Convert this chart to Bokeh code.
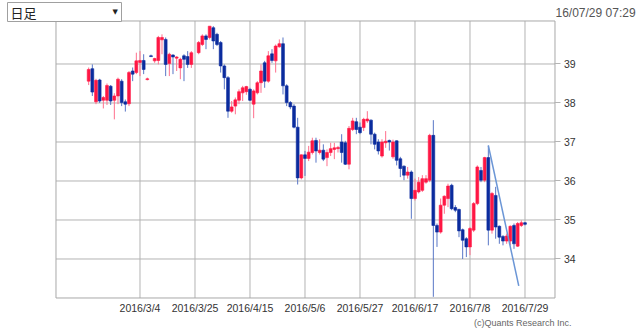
from bokeh.plotting import figure
from bokeh.models import ColumnDataSource, FixedTicker, Label, Range1d
from bokeh.embed import file_html
from bokeh.resources import INLINE

# trading-day slot index (0 = 2016/3/4, one slot per weekday)
day = [-14, -13, -12, -11, -10, -9, -8, -7, -6, -5, -4, -3, -2, -1, 0, 1, 2, 3, 4, 5,
       6, 7, 8, 9, 10, 11, 12, 13, 14, 16, 17, 18, 19, 20, 21, 22, 23, 24, 25, 26,
       27, 28, 29, 30, 31, 32, 33, 34, 35, 36, 37, 38, 39, 40, 41, 42, 43, 44, 45, 46,
       47, 48, 49, 50, 51, 52, 53, 54, 55, 56, 57, 58, 59, 60, 61, 62, 63, 64, 65, 66,
       67, 68, 69, 70, 71, 72, 73, 74, 75, 76, 77, 78, 79, 80, 81, 82, 83, 84, 85, 86,
       87, 88, 89, 90, 91, 92, 93, 94, 95, 96, 97, 98, 99, 100, 101, 102, 103, 104, 105]
opens = [38.56, 38.88, 38.03, 38.59, 38.07, 38.07, 38.43, 38.07, 38.18, 38.56, 38.03, 37.98, 38.82, 38.78, 39.04, 39.09, 38.60, 39.21, 39.08, 39.09,
         39.62, 39.63, 39.01, 39.23, 39.15, 38.90, 39.21, 39.19, 38.99, 39.29, 39.50, 39.72, 39.68, 39.93, 39.76, 39.55, 38.95, 38.65, 37.79, 37.92,
         38.07, 38.26, 38.29, 38.35, 37.97, 38.26, 38.52, 39.03, 38.56, 39.26, 39.08, 39.44, 39.52, 38.44, 38.01, 37.92, 37.38, 36.08, 36.67, 36.58,
         36.73, 37.04, 36.73, 36.79, 36.60, 36.73, 36.81, 36.83, 37.00, 36.98, 36.43, 37.32, 37.52, 37.38, 37.37, 37.54, 37.56, 37.20, 37.00, 36.64,
         36.98, 37.04, 36.62, 37.03, 36.57, 36.38, 36.15, 36.23, 35.55, 35.72, 35.76, 35.97, 36.02, 37.17, 34.86, 34.69, 35.38, 35.55, 35.89, 35.32,
         35.27, 34.75, 34.52, 34.31, 34.74, 35.42, 36.27, 36.02, 36.60, 34.74, 35.63, 34.84, 34.58, 34.46, 34.46, 34.86, 34.33, 34.86, 34.93]
highs = [38.91, 38.99, 38.62, 38.62, 38.18, 38.50, 38.46, 38.25, 38.65, 38.61, 38.09, 38.82, 38.91, 39.29, 39.33, 39.25, 38.65, 39.24, 39.16, 39.72,
         39.76, 39.68, 39.29, 39.25, 39.20, 39.16, 39.25, 39.33, 39.33, 39.59, 39.76, 39.76, 39.97, 39.97, 39.80, 39.59, 38.99, 38.69, 38.05, 38.14,
         38.35, 38.44, 38.44, 38.39, 38.35, 38.56, 38.99, 39.08, 39.33, 39.38, 39.50, 39.63, 39.68, 38.48, 38.05, 37.97, 37.62, 36.68, 36.77, 36.90,
         37.11, 37.11, 37.07, 36.94, 36.81, 36.98, 36.98, 36.90, 37.20, 37.03, 37.41, 37.62, 37.62, 37.50, 37.62, 37.79, 37.58, 37.24, 37.07, 37.07,
         37.28, 37.06, 37.06, 37.04, 36.62, 36.40, 36.36, 36.27, 36.06, 36.10, 36.15, 36.15, 37.21, 37.56, 34.91, 35.55, 35.63, 35.93, 35.93, 35.38,
         35.29, 34.78, 34.56, 34.82, 35.46, 36.40, 36.36, 36.62, 36.91, 35.72, 35.85, 34.86, 34.61, 34.65, 34.86, 34.91, 34.95, 34.99, 34.95]
lows = [38.46, 38.18, 37.97, 38.00, 37.86, 37.95, 37.95, 37.58, 37.97, 37.92, 37.78, 37.92, 38.56, 38.74, 38.69, 38.74, 38.58, 39.18, 39.03, 38.99,
        39.25, 38.69, 38.69, 38.74, 38.82, 38.61, 38.56, 38.90, 38.90, 39.25, 39.46, 39.38, 39.63, 39.38, 39.46, 38.78, 38.35, 37.62, 37.75, 37.71,
        37.97, 38.05, 38.21, 38.05, 37.61, 38.22, 38.26, 38.39, 38.52, 39.03, 38.78, 39.42, 38.22, 37.92, 37.84, 37.35, 35.91, 36.04, 36.13, 36.51,
        36.68, 36.47, 36.68, 36.51, 36.38, 36.64, 36.56, 36.73, 36.47, 36.41, 36.30, 37.28, 37.20, 37.20, 37.28, 37.49, 36.94, 36.81, 36.68, 36.60,
        36.85, 36.78, 36.57, 36.40, 36.10, 36.02, 36.06, 35.03, 35.50, 35.68, 35.72, 35.93, 35.97, 33.03, 34.31, 34.65, 35.16, 35.33, 35.25, 35.20,
        34.56, 34.00, 34.05, 34.10, 34.69, 35.38, 35.97, 35.97, 34.35, 34.65, 34.52, 34.39, 34.35, 34.39, 34.35, 34.26, 34.31, 34.82, 34.86]
closes = [38.86, 38.28, 38.58, 38.05, 38.14, 38.45, 38.05, 38.18, 38.61, 38.01, 37.97, 38.78, 38.74, 39.08, 39.09, 38.86, 38.62, 39.19, 39.14, 39.68,
          39.68, 38.99, 39.25, 39.18, 39.18, 39.12, 39.12, 38.99, 39.29, 39.55, 39.72, 39.63, 39.97, 39.59, 39.50, 38.95, 38.65, 37.79, 37.90, 38.08,
          38.29, 38.39, 38.42, 38.07, 38.31, 38.52, 38.82, 38.56, 39.21, 39.09, 39.46, 39.52, 38.44, 38.01, 37.90, 37.38, 36.08, 36.67, 36.58, 36.74,
          37.03, 36.77, 36.79, 36.56, 36.73, 36.83, 36.85, 36.86, 36.73, 36.43, 37.35, 37.54, 37.32, 37.24, 37.58, 37.59, 37.20, 36.94, 36.77, 37.00,
          37.02, 37.00, 37.00, 36.53, 36.32, 36.15, 36.23, 35.55, 35.76, 35.97, 36.06, 36.06, 37.17, 34.86, 34.69, 35.38, 35.61, 35.87, 35.29, 35.25,
          34.72, 34.48, 34.31, 34.78, 35.42, 36.36, 36.02, 36.60, 34.74, 35.68, 34.82, 34.56, 34.46, 34.59, 34.84, 34.39, 34.91, 34.93, 34.89]

tick_pos = [0, 15, 30, 45, 60, 75, 90, 105]
tick_labels = ["2016/3/4", "2016/3/25", "2016/4/15", "2016/5/6",
               "2016/5/27", "2016/6/17", "2016/7/8", "2016/7/29"]
price_ticks = [34, 35, 36, 37, 38, 39]

trend_x = [95, 103.3]
trend_y = [36.91, 33.31]

# view: the frame covers the whole canvas; the chart box sits inside it
VIEW_X = (-38.045, 136.50)
VIEW_Y = (32.141, 40.628)
X0, X1 = -22.91, 113.18        # chart box left / right
Y0, YTOP = 33.0, 40.1026       # chart box bottom / top

up = [c >= o for o, c in zip(opens, closes)]
src = ColumnDataSource(dict(
    day=day, high=highs, low=lows,
    bot=[min(o, c) for o, c in zip(opens, closes)],
    top=[max(o, c) for o, c in zip(opens, closes)],
    body=["#ff1744" if u else "#0b2c9e" for u in up],
    wick=["#ff6f8c" if u else "#5876c6" for u in up],
))

p = figure(width=640, height=331, output_backend="svg", toolbar_location=None,
           x_range=Range1d(*VIEW_X), y_range=Range1d(*VIEW_Y),
           y_axis_location="right",
           min_border_left=0, min_border_right=0, min_border_top=0, min_border_bottom=0)
p.min_border = 0
p.background_fill_color = "white"
p.border_fill_color = "white"
p.outline_line_color = None

grid_color = "#b4b4b4"
box_color = "#a8a8a8"

xa = p.xaxis[0]
xa.fixed_location = Y0
xa.ticker = FixedTicker(ticks=tick_pos)
xa.major_label_overrides = {t: l for t, l in zip(tick_pos, tick_labels)}
xa.axis_line_color = None
xa.major_tick_line_color = None
xa.major_tick_out = 0
xa.major_tick_in = 0
xa.minor_tick_line_color = None
xa.minor_tick_out = 0
xa.major_label_standoff = 4
xa.major_label_text_font = "Liberation Sans"
xa.major_label_text_font_size = "10.5px"
xa.major_label_text_color = "#333333"

ya = p.yaxis[0]
ya.fixed_location = X1
ya.ticker = FixedTicker(ticks=price_ticks)
ya.axis_line_color = None
ya.major_tick_line_color = grid_color
ya.major_tick_out = 6
ya.major_tick_in = 0
ya.minor_tick_line_color = None
ya.major_label_standoff = 3
ya.major_label_text_font = "Liberation Sans"
ya.major_label_text_font_size = "10.5px"
ya.major_label_text_color = "#333333"

p.xgrid.grid_line_color = None
p.ygrid.grid_line_color = None

# grid lines inside the chart box
p.segment(x0=tick_pos, y0=[Y0] * len(tick_pos), x1=tick_pos, y1=[YTOP] * len(tick_pos),
          line_color=grid_color, line_width=1)
p.segment(x0=[X0] * len(price_ticks), y0=price_ticks, x1=[X1] * len(price_ticks), y1=price_ticks,
          line_color=grid_color, line_width=1)
# chart box
p.segment(x0=[X0, X1, X0, X0], y0=[Y0, Y0, Y0, YTOP], x1=[X0, X1, X1, X1], y1=[YTOP, YTOP, Y0, YTOP],
          line_color=box_color, line_width=1)

p.segment(x0="day", y0="low", x1="day", y1="high", line_color="wick", line_width=1, source=src)
p.vbar(x="day", width=0.78, bottom="bot", top="top", fill_color="body", line_color="body",
       line_width=0.6, source=src)
p.line(trend_x, trend_y, line_color="#6b96d6", line_width=1.5)

# header / footer texts (canvas pixels)
p.add_layout(Label(x=7, y=11.5, x_units="canvas", y_units="canvas", text="日足",
                   text_font="Noto Sans CJK JP", text_font_size="13px", text_color="#222222",
                   text_baseline="middle",
                   border_line_color="#a0a0a0", background_fill_color="white",
                   padding=dict(left=3, right=85, top=0, bottom=0)))
p.add_layout(Label(x=112, y=11.5, x_units="canvas", y_units="canvas", text="▼",
                   text_font="DejaVu Sans", text_font_size="7px", text_color="#222222",
                   text_baseline="middle"))
p.add_layout(Label(x=555, y=12, x_units="canvas", y_units="canvas", text="16/07/29 07:29",
                   text_font="Liberation Sans", text_font_size="12px", text_color="#555555",
                   text_baseline="middle"))
p.add_layout(Label(x=571, y=322, x_units="canvas", y_units="canvas",
                   text="(c)Quants Research Inc.", text_align="right",
                   text_font="Liberation Sans", text_font_size="9px", text_color="#666666",
                   text_baseline="middle"))

open("out.html", "w").write(file_html(p, INLINE))
